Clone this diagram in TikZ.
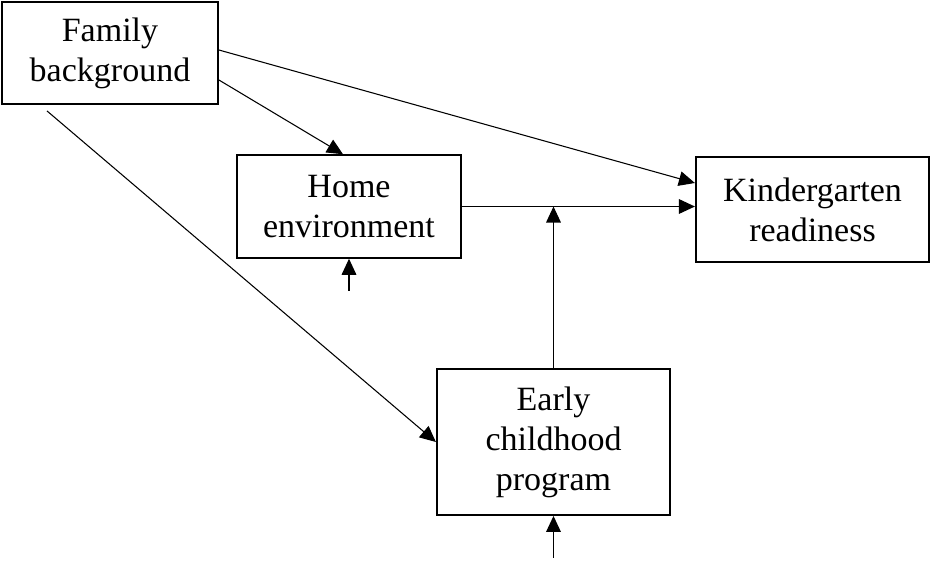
\documentclass[tikz,border=0pt]{standalone}
\usepackage{fontspec}
\setmainfont{Liberation Serif}
\usepackage{tikz}
\usetikzlibrary{shapes,arrows.meta,calc}
\tikzstyle{block} = [rectangle, draw, line width=1.4pt, align=center, inner sep=0pt, font=\fontsize{25.5}{30}\selectfont]
\tikzstyle{line} = [draw, line width=0.8pt, -{Triangle[length=12pt,width=11pt]}]

\begin{document}
\begin{tikzpicture}[x=0.75pt, y=-0.75pt]
      \useasboundingbox (0,0) rectangle (932,561);
      \node [block, minimum width=162pt, minimum height=76.5pt] (family) at (110,53) {Family\\background};
      \node [block, minimum width=168pt, minimum height=77pt] (home) at (349,206.5) {Home\\environment};
      \node [block, minimum width=175pt, minimum height=79pt] (kinder) at (812.5,209.5) {Kindergarten\\readiness};
      \node [block, minimum width=175pt, minimum height=109.5pt] (early) at (553.5,442) {Early\\childhood\\program};
      \coordinate (homein) at ($(home.south)+(0,32)$);
      \coordinate (earlyin) at ($(early.south)+(0,42)$);

      \path [line] ($(family.east)+(0,-3)$) -- ($(kinder.west)+(0,-26.5)$);
      \path [line] ($(family.east)+(0,27)$) -- ($(home.north)+(-6,0)$);
      \path [line] ($(family.south)+(-63,6)$) -- (early.west);
      \path [line] (home.east) -- (home.east -| kinder.west);
      \path [line] (early.north) -- (early.north |- home.east);
      \path [line] (homein) -- (home.south);
      \path [line] (earlyin) -- (early.south);
    \end{tikzpicture}
\end{document}
